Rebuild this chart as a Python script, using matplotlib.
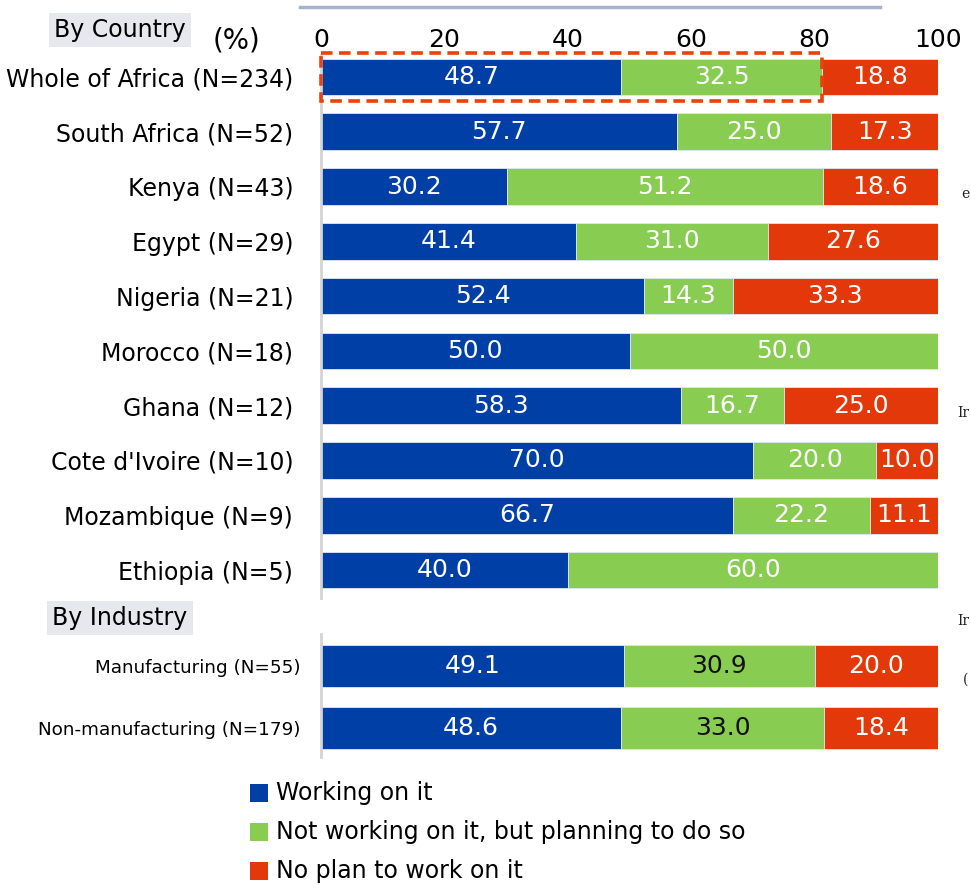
import matplotlib.pyplot as plt
from matplotlib.patches import Rectangle
import numpy as np

# data (%)
countries = ['Whole of Africa (N=234)', 'South Africa (N=52)', 'Kenya (N=43)',
             'Egypt (N=29)', 'Nigeria (N=21)', 'Morocco (N=18)', 'Ghana (N=12)',
             "Cote d'Ivoire (N=10)", 'Mozambique (N=9)', 'Ethiopia (N=5)']
country_working = [48.7, 57.7, 30.2, 41.4, 52.4, 50.0, 58.3, 70.0, 66.7, 40.0]
country_planning = [32.5, 25.0, 51.2, 31.0, 14.3, 50.0, 16.7, 20.0, 22.2, 60.0]
country_noplan = [18.8, 17.3, 18.6, 27.6, 33.3, 0.0, 25.0, 10.0, 11.1, 0.0]

industries = ['Manufacturing (N=55)', 'Non-manufacturing (N=179)']
industry_working = [49.1, 48.6]
industry_planning = [30.9, 33.0]
industry_noplan = [20.0, 18.4]

series_names = ['Working on it', 'Not working on it, but planning to do so',
                'No plan to work on it']
colors = ['#0040A6', '#88CC52', '#E3380A']

W, H = 971, 893
fig = plt.figure(figsize=(W / 100, H / 100), dpi=100)


def fig_box(x0, y0, x1, y1):
    """pixel box (top-left origin) -> figure fraction rect"""
    return [x0 / W, 1 - y1 / H, (x1 - x0) / W, (y1 - y0) / H]


def draw_stack(ax, labels, series, height, label_size, green_text):
    y = np.arange(len(labels))
    left = np.zeros(len(labels))
    for i, vals in enumerate(series):
        vals = np.array(vals)
        bars = ax.barh(y, vals, left=left, height=height, color=colors[i],
                       edgecolor='#dfe6f2', linewidth=0.6)
        for bar, v in zip(bars, vals):
            if v <= 0:
                continue
            tc = green_text if i == 1 else 'white'
            ax.text(bar.get_x() + bar.get_width() / 2, bar.get_y() + bar.get_height() / 2,
                    f'{v:.1f}', ha='center', va='center', color=tc, fontsize=18)
        left += vals
    ax.set_xlim(0, 100)
    ax.set_yticks(y)
    ax.set_yticklabels(labels, fontsize=label_size)
    ax.tick_params(axis='y', length=0)
    for s in ['top', 'right', 'bottom']:
        ax.spines[s].set_visible(False)
    ax.spines['left'].set_color('#d4d4d4')
    ax.spines['left'].set_linewidth(2)


# country block
ax1 = fig.add_axes(fig_box(321, 55, 938, 598))
draw_stack(ax1, countries, [country_working, country_planning, country_noplan],
           0.666, 17, 'white')
ax1.set_ylim(9.51, -0.40)
ax1.tick_params(axis='y', pad=20)
ax1.xaxis.tick_top()
ax1.set_xticks(np.arange(0, 101, 20))
ax1.tick_params(axis='x', length=0, labelsize=18, pad=2)

# dashed frame around "working + planning" of the whole of Africa
ax1.add_patch(Rectangle((0, -0.44), country_working[0] + country_planning[0], 0.88,
                        fill=False, edgecolor='#E8420E', linewidth=2.6,
                        linestyle=(0, (3.2, 1.8)), clip_on=False, zorder=5))

# industry block
ax2 = fig.add_axes(fig_box(321, 634, 938, 757))
draw_stack(ax2, industries, [industry_working, industry_planning, industry_noplan],
           0.677, 13.2, '#111111')
ax2.set_ylim(1.468, -0.516)
ax2.tick_params(axis='y', pad=15)
ax2.set_xticks([])

# section headers
for txt, yc in [('By Country', 30), ('By Industry', 618)]:
    fig.text(120 / W, 1 - yc / H, txt, ha='center', va='center', fontsize=17,
             bbox=dict(boxstyle='square,pad=0.22', facecolor='#E6E8EE', edgecolor='none'))
fig.text(236 / W, 1 - 40 / H, '(%)', ha='center', va='center', fontsize=20)

# decorative top rule
fig.add_artist(plt.Line2D([300 / W, 880 / W], [1 - 7 / H, 1 - 7 / H],
                          color='#A9B3C7', linewidth=2.5))

# legend
for i, (name, c) in enumerate(zip(series_names, colors)):
    yc = 793 + 39 * i
    fig.add_artist(Rectangle((250 / W, 1 - (yc + 9) / H), 18 / W, 18 / H,
                             facecolor=c, edgecolor='none'))
    fig.text(276 / W, 1 - yc / H, name, ha='left', va='center', fontsize=17)

# text fragments at the right border
for txt, xp, yp in [('e', 961, 194), ('Ir', 957, 413), ('Ir', 957, 621), ('(', 963, 680)]:
    fig.text(xp / W, 1 - yp / H, txt, ha='left', va='center', fontsize=10,
             family='DejaVu Serif', color='#222222')

fig.savefig('out.png', dpi=100)
